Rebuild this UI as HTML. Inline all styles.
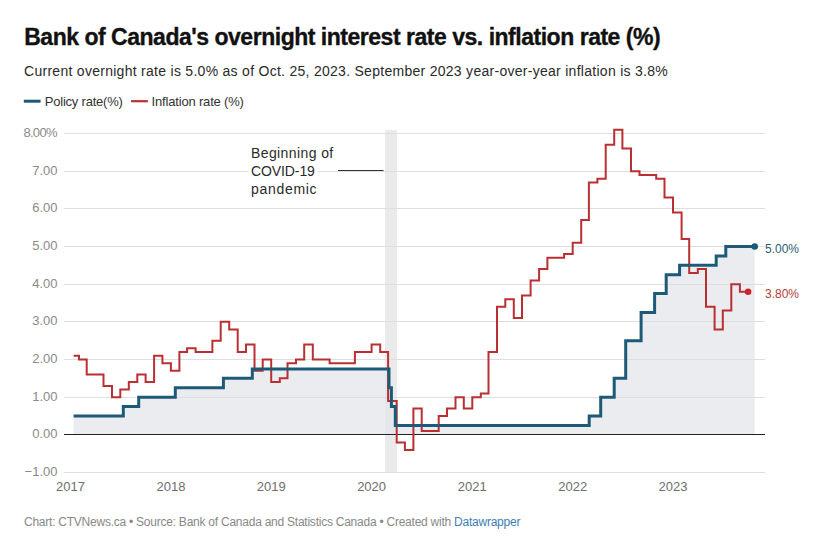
<!DOCTYPE html>
<html><head><meta charset="utf-8"><style>
*{margin:0;padding:0}
html,body{width:815px;height:544px;background:#fff;overflow:hidden}
svg{position:absolute;left:0;top:0;display:block}
text{font-family:"Liberation Sans",sans-serif}
</style></head><body>
<svg width="815" height="544" viewBox="0 0 815 544">
<text x="24.2" y="45.3" font-size="23px" font-weight="bold" fill="#111" stroke="#111" stroke-width="0.35" letter-spacing="-0.48">Bank of Canada's overnight interest rate vs. inflation rate (%)</text>
<text x="24" y="75.7" font-size="14px" fill="#2a2a2a" letter-spacing="0.28">Current overnight rate is 5.0% as of Oct. 25, 2023. September 2023 year-over-year inflation is 3.8%</text>
<line x1="23.8" x2="40.6" y1="101.2" y2="101.2" stroke="#1d5a78" stroke-width="3"/>
<text x="44.8" y="105.8" font-size="13px" fill="#333" letter-spacing="-0.22">Policy rate(%)</text>
<line x1="131.1" x2="147.8" y1="101.2" y2="101.2" stroke="#ba2f31" stroke-width="2.2"/>
<text x="151.6" y="105.8" font-size="13px" fill="#333" letter-spacing="-0.18">Inflation rate (%)</text>
<rect x="385" y="130" width="12" height="342" fill="#eaeaea"/>
<path d="M73.6,416.0H123.3V406.6H138.7V397.2H175.3V387.7H223.4V378.3H252.3V368.9H389.0V387.7H391.4V406.6H395.3V425.4H589.2V416.0H600.7V397.2H614.2V378.3H625.7V340.7H641.1V312.4H654.6V293.6H666.2V274.7H679.6V265.3H716.2V255.9H725.8V246.5H754.7V434.8H73.6Z" fill="#e4e6ea" fill-opacity="0.75"/>
<g stroke="#dedede" stroke-width="1"><line x1="64" x2="765" y1="472.5" y2="472.5"/><line x1="64" x2="765" y1="397.5" y2="397.5"/><line x1="64" x2="765" y1="359.5" y2="359.5"/><line x1="64" x2="765" y1="321.5" y2="321.5"/><line x1="64" x2="765" y1="284.5" y2="284.5"/><line x1="64" x2="765" y1="246.5" y2="246.5"/><line x1="64" x2="765" y1="208.5" y2="208.5"/><line x1="64" x2="765" y1="171.5" y2="171.5"/><line x1="64" x2="765" y1="133.5" y2="133.5"/></g>
<line x1="64" x2="765" y1="434.5" y2="434.5" stroke="#222" stroke-width="1.2"/>
<g font-size="13px" fill="#8a8a8a" text-anchor="end"><text x="57.5" y="476.1">−1.00</text><text x="57.5" y="438.1">0.00</text><text x="57.5" y="401.1">1.00</text><text x="57.5" y="363.1">2.00</text><text x="57.5" y="325.1">3.00</text><text x="57.5" y="288.1">4.00</text><text x="57.5" y="250.1">5.00</text><text x="57.5" y="212.1">6.00</text><text x="57.5" y="175.1">7.00</text><text x="56.8" y="137.1" letter-spacing="-0.7">8.00%</text></g>
<g font-size="13px" fill="#6e6e6e" text-anchor="middle"><text x="70.5" y="490.6">2017</text><text x="170.9" y="490.6">2018</text><text x="271.2" y="490.6">2019</text><text x="371.6" y="490.6">2020</text><text x="472.3" y="490.6">2021</text><text x="572.7" y="490.6">2022</text><text x="673.0" y="490.6">2023</text></g>
<path d="M73.6,355.7H79.0V359.5H86.7V374.6H95.2H103.5V385.9H112.0V397.2H120.3V389.6H128.8V382.1H137.3V374.6H145.6V382.1H154.1V355.7H162.4V363.3H170.9V370.8H179.4V352.0H187.1V348.2H195.6V352.0H203.9H212.4V340.7H220.7V321.8H229.2V329.4H237.7V352.0H246.0V344.4H254.5V370.8H262.7V359.5H271.2V382.1H279.8V378.3H287.5V363.3H296.0V359.5H304.2V344.4H312.8V359.5H321.0H329.6V363.3H338.1H346.3H354.9V352.0H363.1H371.6V344.4H380.2V352.0H388.1V400.9H396.7V442.4H404.9V449.9H413.4V408.5H421.7V431.1H430.2H438.7V416.0H447.0V408.5H455.5V397.2H463.8V408.5H472.3V397.2H480.8V393.4H488.5V352.0H497.0V306.8H505.3V299.2H513.8V318.1H522.0V295.5H530.6V280.4H539.1V269.1H547.4V257.8H555.9H564.1V254.0H572.7V242.7H581.2V220.1H588.9V182.5H597.4V178.7H605.7V144.8H614.2V129.7H622.4V148.6H631.0V171.2H639.5V174.9H647.7H656.2V178.7H664.5V197.5H673.0V212.6H681.6V239.0H689.2V272.9H697.8V269.1H706.0V306.8H714.6V329.4H722.8V310.5H731.3V284.2H739.9V291.7H748.1" fill="none" stroke="#ba2f31" stroke-width="2" stroke-linejoin="miter"/>
<path d="M73.6,416.0H123.3V406.6H138.7V397.2H175.3V387.7H223.4V378.3H252.3V368.9H389.0V387.7H391.4V406.6H395.3V425.4H589.2V416.0H600.7V397.2H614.2V378.3H625.7V340.7H641.1V312.4H654.6V293.6H666.2V274.7H679.6V265.3H716.2V255.9H725.8V246.5H754.7" fill="none" stroke="#1d5a78" stroke-width="3" stroke-linejoin="miter"/>
<circle cx="754.7" cy="246.5" r="3.3" fill="#1d5a78"/>
<circle cx="748.1" cy="291.7" r="3.3" fill="#c8262e"/>
<text x="765" y="252.8" font-size="12px" fill="#2d5a72">5.00%</text>
<text x="765" y="297.9" font-size="12px" fill="#b23c38">3.80%</text>
<rect x="248.5" y="168" width="68.5" height="6" fill="#fff"/>
<line x1="338" x2="383.5" y1="170.5" y2="170.5" stroke="#333" stroke-width="1"/>
<g font-size="14px" fill="#2a2a2a" stroke="#fff" stroke-width="6" stroke-linejoin="round" paint-order="stroke"><text x="251" y="158.1" letter-spacing="0.4">Beginning of</text><text x="251" y="176.2" letter-spacing="-0.1">COVID-19</text><text x="251" y="193.5" letter-spacing="0.7">pandemic</text></g>
<text x="24" y="526" font-size="12px" fill="#888" letter-spacing="-0.24">Chart: CTVNews.ca &#8226; Source: Bank of Canada and Statistics Canada &#8226; Created with <tspan fill="#3d7fb5">Datawrapper</tspan></text>
</svg>
</body></html>
